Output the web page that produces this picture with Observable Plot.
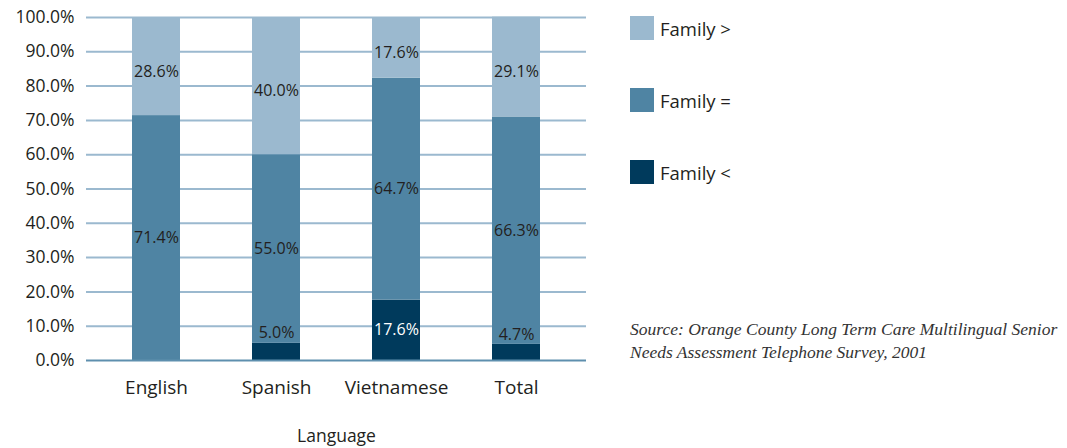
<!DOCTYPE html>
<html>
<head>
<meta charset="utf-8">
<script src="https://cdn.jsdelivr.net/npm/d3@7"></script>
<script src="https://cdn.jsdelivr.net/npm/@observablehq/plot@0.6"></script>
<style>
  body { margin: 0; background: #fff; }
  #wrap { position: relative; width: 1067px; height: 448px; font-family: "Open Sans", sans-serif; color: #231f20; }
  #chart { position: absolute; left: 0; top: 0; }
  #legend { position: absolute; left: 630px; top: 16px; }
  .item { display: flex; align-items: center; height: 24px; margin-bottom: 48px; font-size: 18.5px; }
  .sw { width: 24px; height: 24px; margin-right: 6px; }
  #source { position: absolute; left: 630px; top: 318px; font-family: "Liberation Serif", serif; font-style: italic; font-size: 17.5px; line-height: 23px; color: #333; white-space: nowrap; }
</style>
</head>
<body>
<div id="wrap">
  <div id="chart"></div>
  <div id="legend"></div>
  <div id="source">Source: Orange County Long Term Care Multilingual Senior<br>Needs Assessment Telephone Survey, 2001</div>
</div>
<script>
const languages = ["English", "Spanish", "Vietnamese", "Total"];
const seriesNames = ["Family <", "Family =", "Family >"];
const familyLess = [0, 5.0, 17.6, 4.7];
const familyEqual = [71.4, 55.0, 64.7, 66.3];
const familyMore = [28.6, 40.0, 17.6, 29.1];
const seriesColors = ["#003a5c", "#4f84a3", "#9bb9cf"];
const yTicks = [0, 10, 20, 30, 40, 50, 60, 70, 80, 90, 100];

const seriesValues = [familyLess, familyEqual, familyMore];
const rows = [];
seriesNames.forEach((s, si) => {
  languages.forEach((lang, li) => {
    rows.push({language: lang, series: s, value: seriesValues[si][li]});
  });
});

const fmt = d => d.value.toFixed(1) + "%";
// show a label only for rows matching the test; all rows still stack
const labelOpts = (test, extra) => ({
  x: "language", y: "value", z: "series", order: seriesNames,
  text: d => test(d) ? fmt(d) : "",
  fontSize: 16,
  ...extra
});

const chart = Plot.plot({
  width: 600,
  height: 448,
  marginTop: 17,
  marginBottom: 88,
  marginLeft: 86,
  marginRight: 14,
  style: {fontFamily: "Open Sans, sans-serif", color: "#231f20", background: "#fff"},
  x: {domain: languages, insetLeft: 7.5, insetRight: 8.5, paddingInner: 0.6033, paddingOuter: 0.3017, label: null},
  y: {domain: [0, 100], label: null},
  color: {domain: seriesNames, range: seriesColors},
  marks: [
    Plot.ruleY(yTicks.filter(d => d > 0), {stroke: "#9bb9cf", strokeWidth: 2}),
    Plot.barY(rows, Plot.stackY({x: "language", y: "value", fill: "series", order: seriesNames})),
    Plot.ruleY([0], {stroke: "#5e8fae", strokeWidth: 2}),
    Plot.axisY({ticks: yTicks, tickSize: 0, tickPadding: 12, tickFormat: d => d.toFixed(1) + "%", fontSize: 17.5, fill: "#231f20", label: null}),
    Plot.axisX({tickSize: 0, tickPadding: 20, fontSize: 19, fill: "#231f20", label: null}),
    Plot.text(["Language"], {frameAnchor: "bottom", dy: 76, fontSize: 17.5, fill: "#231f20", lineAnchor: "middle"}),
    // top segment labels
    Plot.text(rows, Plot.stackY(labelOpts(d => d.series === "Family >", {dy: 5, fill: "#231f20"}))),
    // middle segment labels
    Plot.text(rows, Plot.stackY(labelOpts(d => d.series === "Family =", {fill: "#231f20"}))),
    // bottom segment labels, large enough to hold text
    Plot.text(rows, Plot.stackY(labelOpts(d => d.series === "Family <" && d.value >= 8, {fill: "#ffffff"}))),
    // bottom segment labels, small: just above the segment
    Plot.text(rows, Plot.stackY2(labelOpts(d => d.series === "Family <" && d.value > 0 && d.value < 8, {dy: -10, fill: "#231f20"})))
  ]
});
document.getElementById("chart").appendChild(chart);

const legend = document.getElementById("legend");
[...seriesNames].reverse().forEach((s) => {
  const i = seriesNames.indexOf(s);
  const item = document.createElement("div");
  item.className = "item";
  const sw = document.createElement("div");
  sw.className = "sw";
  sw.style.background = seriesColors[i];
  const t = document.createElement("span");
  t.textContent = s;
  item.appendChild(sw);
  item.appendChild(t);
  legend.appendChild(item);
});
</script>
</body>
</html>
